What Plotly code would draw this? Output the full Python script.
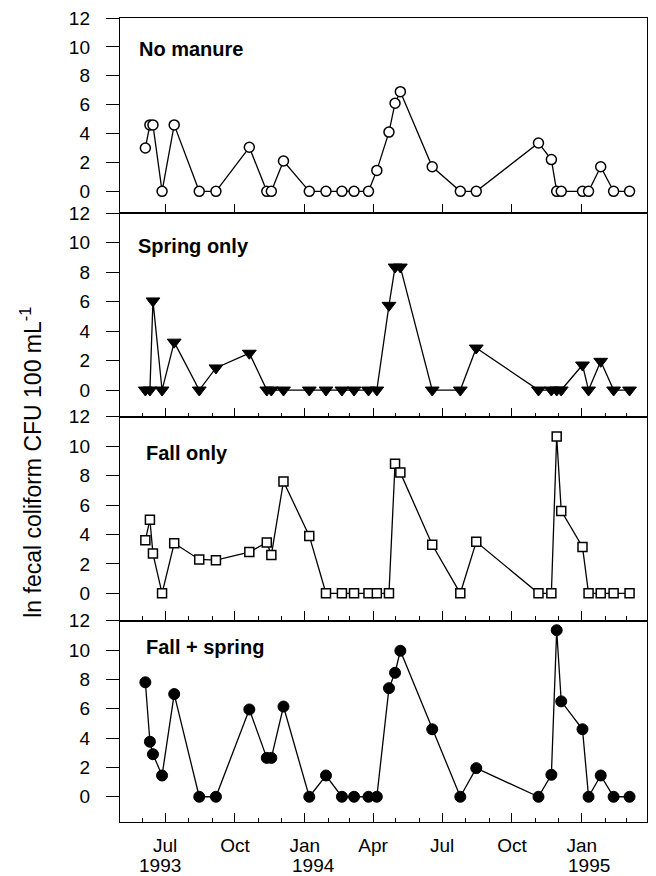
import plotly.graph_objects as go

# ---------------- data ----------------
dates = ["1993-06-05", "1993-06-11", "1993-06-15", "1993-06-27", "1993-07-13",
         "1993-08-15", "1993-09-06", "1993-10-20", "1993-11-12", "1993-11-18",
         "1993-12-04", "1994-01-07", "1994-01-29", "1994-02-19", "1994-03-07",
         "1994-03-26", "1994-04-06", "1994-04-22", "1994-04-30", "1994-05-07",
         "1994-06-18", "1994-07-25", "1994-08-15", "1994-11-05", "1994-11-22",
         "1994-11-29", "1994-12-05", "1995-01-02", "1995-01-10", "1995-01-26",
         "1995-02-12", "1995-03-05"]

no_manure = [3.0, 4.6, 4.6, 0, 4.6, 0, 0, 3.05, 0, 0,
             2.1, 0, 0, 0, 0, 0, 1.45, 4.1, 6.1, 6.9,
             1.7, 0, 0, 3.35, 2.2, 0, 0, 0, 0, 1.7,
             0, 0]

spring_only = [0, 0, 6.05, 0, 3.25, 0, 1.5, 2.5, 0, 0,
               0, 0, 0, 0, 0, 0, 0, 5.75, 8.35, 8.35,
               0, 0, 2.85, 0, 0, 0, 0, 1.7, 0, 1.95,
               0, 0]

fall_only = [3.6, 5.0, 2.7, 0, 3.4, 2.3, 2.25, 2.8, 3.45, 2.6,
             7.6, 3.9, 0, 0, 0, 0, 0, 0, 8.8, 8.2,
             3.3, 0, 3.5, 0, 0, 10.65, 5.6, 3.15, 0, 0,
             0, 0]

fall_spring = [7.8, 3.75, 2.9, 1.45, 7.0, 0, 0, 5.95, 2.65, 2.65,
               6.15, 0, 1.45, 0, 0, 0, 0, 7.4, 8.45, 9.95,
               4.6, 0, 1.95, 0, 1.5, 11.35, 6.5, 4.6, 0, 1.45,
               0, 0]

panel_labels = ["No manure", "Spring only", "Fall only", "Fall + spring"]
month_ticks = ["1993-07-01", "1993-10-01", "1994-01-01", "1994-04-01",
               "1994-07-01", "1994-10-01", "1995-01-01"]
month_labels = ["Jul", "Oct", "Jan", "Apr", "Jul", "Oct", "Jan"]
year_labels = ["1993", "1994", "1995"]
year_pos = ["1993-06-24", "1994-01-12", "1995-01-10"]
y_ticks = [0, 2, 4, 6, 8, 10, 12]
y_title = "ln fecal coliform CFU 100 mL<sup>-1</sup>"

# ---------------- styling ----------------
FONT = "Liberation Sans, Arial, Helvetica, sans-serif"
x_range = ["1993-05-02 14:00", "1995-03-28"]
domains = [[0.7571, 1.0], [0.5041, 0.7571], [0.2504, 0.5041], [0.0, 0.2504]]
y_ranges = [[-1.52, 12], [-1.81, 12], [-1.86, 12], [-1.72, 12]]
label_x = [0.032, 0.031, 0.045, 0.045]
label_y = [0.9618, 0.7160, 0.4590, 0.2180]

series = [no_manure, spring_only, fall_only, fall_spring]
markers = [
    dict(symbol="circle", size=10, color="white", line=dict(color="black", width=1.5)),
    dict(symbol="triangle-down", size=12, color="black", line=dict(color="black", width=1)),
    dict(symbol="square", size=9, color="white", line=dict(color="black", width=1.5)),
    dict(symbol="circle", size=11, color="black", line=dict(color="black", width=1)),
]

fig = go.Figure()
for i, vals in enumerate(series):
    n = i + 1
    fig.add_trace(go.Scatter(
        x=dates, y=vals, mode="lines+markers",
        line=dict(color="black", width=1.3),
        marker=markers[i],
        xaxis="x" if n == 1 else f"x{n}",
        yaxis="y" if n == 1 else f"y{n}",
        showlegend=False, cliponaxis=False,
    ))

# the page body adds an 8px offset, so the figure is 8px smaller on each side
layout = dict(
    width=648, height=868,
    margin=dict(l=112, r=9, t=10, b=54),
    paper_bgcolor="white", plot_bgcolor="white",
    font=dict(family=FONT, size=19, color="black"),
    showlegend=False,
)

for i in range(4):
    n = i + 1
    xk = "xaxis" if n == 1 else f"xaxis{n}"
    yk = "yaxis" if n == 1 else f"yaxis{n}"
    xa = dict(
        type="date", range=x_range, domain=[0, 1],
        anchor="y" if n == 1 else f"y{n}",
        tickmode="array", tickvals=month_ticks,
        showticklabels=(n == 4),
        ticks="inside", ticklen=9, tickwidth=1.2, tickcolor="black",
        showline=True, linecolor="black", linewidth=1.4, mirror=True,
        showgrid=False, zeroline=False, automargin=False,
        tickfont=dict(family=FONT, size=19, color="black"),
    )
    if n == 4:
        xa["ticktext"] = month_labels
        xa["ticklabelstandoff"] = 6
        xa["ticklabeloverflow"] = "allow"
    if n != 1:
        xa["matches"] = "x"
        xa["minor"] = dict(ticks="inside", ticklen=4, tickwidth=1, tickcolor="black",
                           dtick="M1", tick0="1993-05-01", showgrid=False)
    layout[xk] = xa
    layout[yk] = dict(
        domain=domains[i], range=y_ranges[i],
        anchor="x" if n == 1 else f"x{n}",
        tickmode="array", tickvals=y_ticks,
        ticks="outside", ticklen=13, tickwidth=1.3, tickcolor="black",
        showline=True, linecolor="black", linewidth=1.4, mirror=True,
        showgrid=False, zeroline=False, automargin=False,
        tickfont=dict(family=FONT, size=19, color="black"),
        ticklabelstandoff=12, ticklabeloverflow="allow",
    )

annotations = []
for i, lab in enumerate(panel_labels):
    annotations.append(dict(
        text=f"<b>{lab}</b>", xref="paper", yref="paper",
        x=label_x[i], y=label_y[i], xanchor="left", yanchor="middle",
        showarrow=False, font=dict(family=FONT, size=20, color="black"),
    ))
for yl, yp in zip(year_labels, year_pos):
    annotations.append(dict(
        text=yl, xref="x4", yref="paper", x=yp, y=-0.0547,
        xanchor="center", yanchor="middle", showarrow=False,
        font=dict(family=FONT, size=19, color="black"),
    ))
annotations.append(dict(
    text=y_title, xref="paper", yref="paper", x=-0.169, y=0.448,
    xanchor="center", yanchor="middle", textangle=-90, showarrow=False,
    font=dict(family=FONT, size=23, color="black"),
))
layout["annotations"] = annotations

fig.update_layout(**layout)
fig.write_html("out.html")
